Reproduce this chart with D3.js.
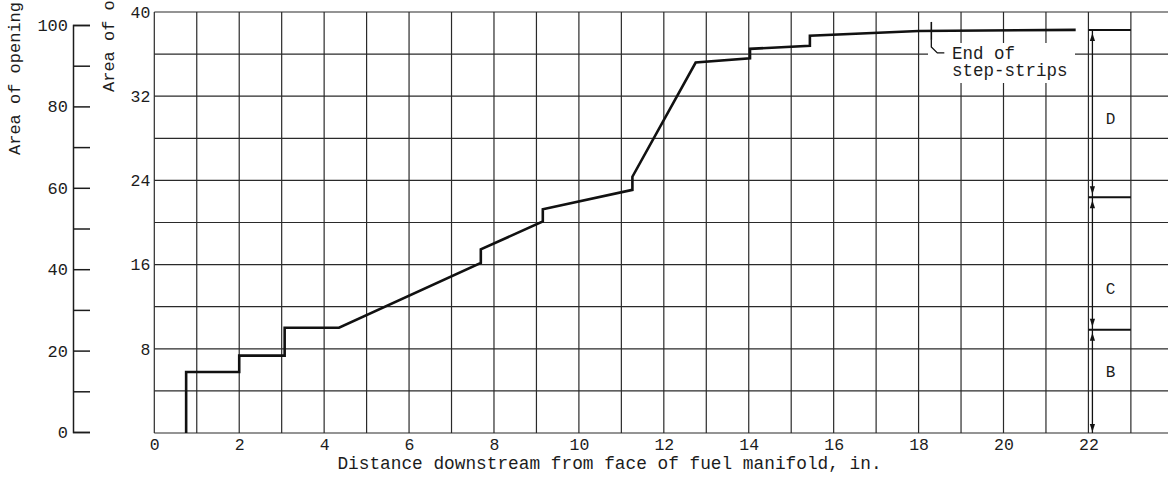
<!DOCTYPE html>
<html>
<head>
<meta charset="utf-8">
<script src="https://cdn.jsdelivr.net/npm/d3@7"></script>
<style>
  html, body { margin: 0; padding: 0; background: #fff; }
  svg { display: block; }
  text { font-family: "Liberation Mono", "DejaVu Sans Mono", monospace; fill: #1c1c1c; }
</style>
</head>
<body>
<svg id="chart" width="1168" height="478"></svg>
<script>
// Open area of the step-strips against distance downstream of the fuel manifold
const distanceIn = [0.75, 0.75, 2.0, 2.0, 3.07, 3.07, 4.35, 7.69, 7.69, 9.15, 9.15,
                    11.26, 11.26, 12.75, 14.03, 14.03, 15.44, 15.44, 18.0, 21.7];
const areaSqIn   = [0, 5.8, 5.8, 7.35, 7.35, 10.0, 10.0, 16.15, 17.45, 20.1, 21.25,
                    23.1, 24.35, 35.2, 35.6, 36.5, 36.8, 37.75, 38.2, 38.3];

// Axis ticks
const xTickLabels = [0, 2, 4, 6, 8, 10, 12, 14, 16, 18, 20, 22];
const areaTickLabels = [8, 16, 24, 32, 40];
const percentTicks = [0, 10, 20, 30, 40, 50, 60, 70, 80, 90, 100];

// Zones marked at the downstream end
const zoneNames = ["B", "C", "D"];
const zoneBounds = [0, 9.8, 22.4, 38.3];

// Where the step-strips stop
const stepStripEnd = 18.3;

// Text
const xTitle = "Distance downstream from face of fuel manifold, in.";
const areaTitle = "Area of opening, sq in.";
const percentTitle = "Area of opening, percent";
const noteLines = ["End of", "step-strips"];

const svg = d3.select("#chart");
const W = 1168;

const x = d3.scaleLinear().domain([0, 24]).range([154.3, 154.3 + 24 * 42.46]);
const y = d3.scaleLinear().domain([0, 40]).range([433, 12]);
const yPct = d3.scaleLinear().domain([0, 100]).range([432, 25]);

const ink = "#1c1c1c";

// ---- grid ----
const grid = svg.append("g").attr("stroke", "#2a2a2a").attr("stroke-width", 1.2);
grid.selectAll("line.v").data(d3.range(0, 24)).join("line")
  .attr("class", "v")
  .attr("x1", d => x(d)).attr("x2", d => x(d))
  .attr("y1", y(0)).attr("y2", y(40));
grid.selectAll("line.h").data(d3.range(0, 41, 4)).join("line")
  .attr("class", "h")
  .attr("x1", x(0)).attr("x2", W)
  .attr("y1", d => y(d)).attr("y2", d => y(d));

// clear patch behind the step-strip note
svg.append("rect")
  .attr("x", 928).attr("y", 43).attr("width", 147).attr("height", 40)
  .attr("fill", "#fff");

// ---- axes ----
const xAxis = svg.append("g")
  .attr("transform", `translate(0,${y(0)})`)
  .call(d3.axisBottom(x).tickValues(xTickLabels).tickSize(0).tickPadding(5).tickFormat(d3.format("d")));
xAxis.select(".domain").remove();
xAxis.selectAll("text").attr("font-size", 16.5).attr("font-family", null).attr("fill", ink);

const yAxis = svg.append("g")
  .attr("transform", `translate(${x(0)},0)`)
  .call(d3.axisLeft(y).tickValues(areaTickLabels).tickSize(0).tickPadding(4).tickFormat(d3.format("d")));
yAxis.select(".domain").remove();
yAxis.selectAll("text").attr("font-size", 16.5).attr("font-family", null).attr("fill", ink);

const pAxis = svg.append("g")
  .attr("transform", "translate(73,0)")
  .call(d3.axisLeft(yPct).tickValues(percentTicks).tickSize(-17).tickPadding(5)
    .tickFormat(d => d % 20 === 0 ? d : ""));
pAxis.selectAll("path,line").attr("stroke", ink).attr("stroke-width", 1.5);
pAxis.selectAll("text").attr("font-size", 17).attr("font-family", null).attr("fill", ink);

// axis titles
svg.append("text")
  .attr("x", 609.5).attr("y", 469)
  .attr("text-anchor", "middle").attr("font-size", 17.8)
  .text(xTitle);

svg.append("text")
  .attr("transform", "translate(20,155) rotate(-90)")
  .attr("font-size", 17).text(percentTitle);

svg.append("text")
  .attr("transform", "translate(114,92) rotate(-90)")
  .attr("font-size", 17).text(areaTitle);

// ---- the area curve ----
const pts = distanceIn.map((d, i) => [d, areaSqIn[i]]);
svg.append("path")
  .datum(pts)
  .attr("fill", "none").attr("stroke", "#111").attr("stroke-width", 2.6)
  .attr("stroke-linejoin", "miter")
  .attr("d", d3.line().x(d => x(d[0])).y(d => y(d[1])));

// end-of-step-strips marker and leader
const ex = x(stepStripEnd);
const ey = y(d3.max(areaSqIn.filter((a, i) => distanceIn[i] <= stepStripEnd)));
svg.append("line")
  .attr("x1", ex).attr("x2", ex).attr("y1", ey - 9).attr("y2", ey + 9)
  .attr("stroke", "#111").attr("stroke-width", 1.6);
svg.append("path")
  .attr("d", `M${ex},${ey + 9}V${ey + 16}L${ex + 6},${ey + 22}H${ex + 13}`)
  .attr("fill", "none").attr("stroke", "#111").attr("stroke-width", 1.3);
svg.selectAll("text.note").data(noteLines).join("text")
  .attr("class", "note")
  .attr("x", 952).attr("y", (d, i) => 59 + i * 16.5)
  .attr("font-size", 17.5)
  .text(d => d);

// ---- zone dimension lines ----
const dimX = x(22) + 4;
const zg = svg.append("g").attr("stroke", "#111");
zg.append("line")
  .attr("x1", dimX).attr("x2", dimX)
  .attr("y1", y(zoneBounds[zoneBounds.length - 1])).attr("y2", y(0))
  .attr("stroke-width", 1.3);
zg.selectAll("line.cap").data(zoneBounds.slice(1)).join("line")
  .attr("class", "cap")
  .attr("x1", x(22)).attr("x2", x(23))
  .attr("y1", d => y(d)).attr("y2", d => y(d))
  .attr("stroke-width", 2);

const arrow = (tipY, dir) => {
  const h = 8, w = 2.6;
  return `M${dimX},${tipY}L${dimX - w},${tipY - dir * h}L${dimX + w},${tipY - dir * h}Z`;
};
zoneNames.forEach((name, i) => {
  const lo = zoneBounds[i], hi = zoneBounds[i + 1];
  svg.append("path").attr("d", arrow(y(hi) + 3, -1)).attr("fill", "#111");
  svg.append("path").attr("d", arrow(y(lo) - (i === 0 ? 1 : 3), 1)).attr("fill", "#111");
});

const labelFrac = [0.6, 0.31, 0.47];
svg.selectAll("text.zone").data(zoneNames).join("text")
  .attr("class", "zone")
  .attr("x", (x(22) + x(23)) / 2 + 1)
  .attr("y", (d, i) => y(zoneBounds[i] + labelFrac[i] * (zoneBounds[i + 1] - zoneBounds[i])))
  .attr("dy", "0.35em")
  .attr("text-anchor", "middle").attr("font-size", 16)
  .text(d => d);
</script>
</body>
</html>
